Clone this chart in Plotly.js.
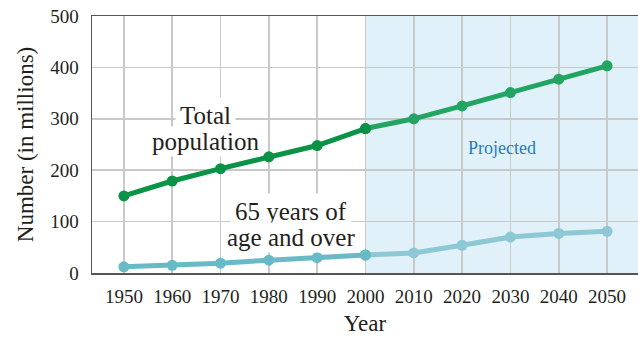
<!DOCTYPE html>
<html>
<head>
<meta charset="utf-8">
<script src="https://cdn.plot.ly/plotly-3.0.1.min.js"></script>
<style>html,body{margin:0;padding:0;background:#fff;}#chart{width:638px;height:337px;}</style>
</head>
<body>
<div id="chart"></div>
<script>
const years = [1950, 1960, 1970, 1980, 1990, 2000, 2010, 2020, 2030, 2040, 2050];
const totalPop = [150, 179, 203, 226, 248, 281, 300, 325, 351, 377, 403];
const olderPop = [12, 15, 19, 25, 30, 35, 39, 54, 70, 77, 81];
const projStart = 2000;
const yTicks = [0, 100, 200, 300, 400, 500];

const split = years.indexOf(projStart);
function seg(vals, from, to) { return { x: years.slice(from, to), y: vals.slice(from, to) }; }

function tr(d, color) {
  return {
    x: d.x, y: d.y, type: 'scatter', mode: 'lines+markers',
    line: { color: color, width: 5 },
    marker: { color: color, size: 11 },
    hoverinfo: 'skip', showlegend: false
  };
}

const data = [
  tr(seg(olderPop, split, years.length), '#8ec8d5'),
  tr(seg(olderPop, 0, split + 1), '#68bac7'),
  tr(seg(totalPop, split, years.length), '#22a463'),
  tr(seg(totalPop, 0, split + 1), '#0a9346')
];

const serif = 'Liberation Serif, Times New Roman, serif';
const ink = '#231f20';
function label(text, x, y, pad) {
  return { x: x, y: y, xref: 'x', yref: 'y', text: text, showarrow: false,
    font: { family: serif, size: 25, color: ink }, bgcolor: '#ffffff', borderpad: pad };
}
const layout = {
  width: 638, height: 337,
  margin: { l: 92, r: 0, t: 16, b: 64 },
  paper_bgcolor: '#ffffff', plot_bgcolor: '#ffffff',
  font: { family: serif, color: ink, size: 19 },
  xaxis: {
    range: [1943.4, 2056.4], tickvals: years, ticktext: years.map(String),
    showgrid: true, gridcolor: '#c9c9c9', gridwidth: 1.5,
    showline: true, linecolor: '#555', linewidth: 1.5, mirror: true,
    ticks: '', zeroline: false, ticklabelstandoff: 6,
    tickfont: { family: serif, size: 19, color: ink },
    title: { text: 'Year', font: { family: serif, size: 23, color: ink }, standoff: 8 }
  },
  yaxis: {
    range: [0, 500], tickvals: yTicks,
    showgrid: true, gridcolor: '#c9c9c9', gridwidth: 1.5,
    showline: true, linecolor: '#555', linewidth: 1.5,
    ticks: '', zeroline: false, ticklabelstandoff: 8,
    tickfont: { family: serif, size: 19, color: ink },
    title: { text: 'Number (in millions)', font: { family: serif, size: 23, color: ink }, standoff: 10 }
  },
  shapes: [{
    type: 'rect', xref: 'x', yref: 'paper', x0: projStart, x1: 2056.4, y0: 0, y1: 1,
    fillcolor: '#e0f1f9', line: { width: 0 }, layer: 'below'
  }],
  annotations: [
    label('Total', 1966.8, 307, 4),
    label('population', 1966.8, 255, 1),
    label('65 years of', 1984.6, 120, 4),
    label('age and over', 1984.6, 69, 1),
    { x: 2028.3, y: 243, xref: 'x', yref: 'y', text: 'Projected', showarrow: false,
      font: { family: serif, size: 18, color: '#1b7ec4' } }
  ]
};

Plotly.newPlot('chart', data, layout, { displayModeBar: false, staticPlot: true });
</script>
</body>
</html>
